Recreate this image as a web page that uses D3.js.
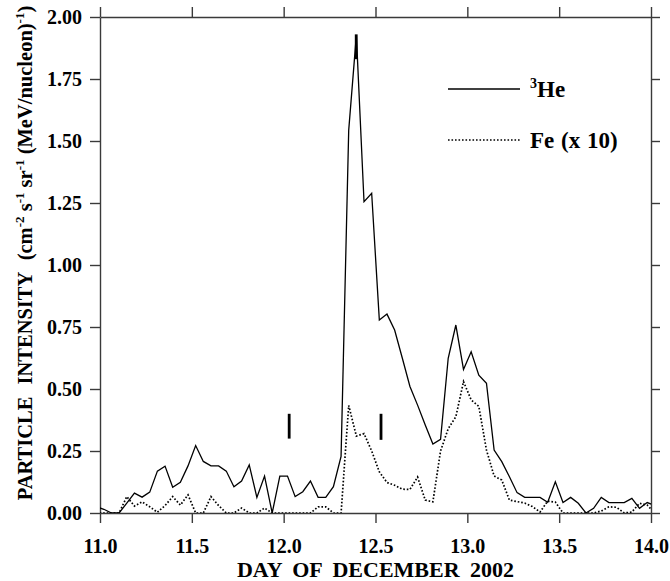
<!DOCTYPE html>
<html>
<head>
<meta charset="utf-8">
<script src="https://cdn.jsdelivr.net/npm/d3@7"></script>
<style>
  html, body { margin: 0; padding: 0; background: #fff; }
  svg { display: block; }
  text { font-family: "Liberation Serif", "Times New Roman", serif; font-weight: 700; fill: #000; }
</style>
</head>
<body>
<svg id="chart" width="670" height="581"></svg>
<script>
// Hourly averages, December 11.0 – 14.0, 2002 (bin centres at hour + 0.5)
const firstHour = -0.5;          // first bin centre, hours after Dec 11.0
const heIntensity = [
  0.025, 0.015, 0.0, 0.0, 0.04, 0.08, 0.064, 0.084, 0.169, 0.189,
  0.104, 0.124, 0.19, 0.272, 0.208, 0.19, 0.19, 0.169, 0.106, 0.129,
  0.194, 0.063, 0.149, 0.0, 0.149, 0.149, 0.066, 0.086, 0.129, 0.063,
  0.063, 0.106, 0.228, 1.544, 1.927, 1.255, 1.289, 0.778, 0.802, 0.738,
  0.625, 0.51, 0.435, 0.355, 0.278, 0.297, 0.624, 0.758, 0.579, 0.65,
  0.556, 0.523, 0.254, 0.207, 0.146, 0.082, 0.063, 0.063, 0.063, 0.043,
  0.126, 0.042, 0.063, 0.039, 0.0, 0.019, 0.063, 0.042, 0.042, 0.042,
  0.059, 0.019, 0.042, 0.03
];
// Fe intensity multiplied by 10
const feIntensityX10 = [
  0.0, 0.0, 0.0, 0.0, 0.066, 0.028, 0.045, 0.025, 0.003, 0.03,
  0.066, 0.032, 0.073, 0.0, 0.0, 0.066, 0.03, 0.0, 0.0, 0.02,
  0.0, 0.0, 0.02, 0.0, 0.0, 0.0, 0.0, 0.0, 0.0, 0.025,
  0.025, 0.0, 0.0, 0.434, 0.31, 0.32, 0.25, 0.166, 0.123, 0.112,
  0.096, 0.095, 0.145, 0.052, 0.045, 0.25, 0.34, 0.388, 0.53, 0.456,
  0.43, 0.254, 0.149, 0.133, 0.052, 0.046, 0.04, 0.026, 0.004, 0.048,
  0.044, 0.0, 0.0, 0.0, 0.0, 0.0, 0.008, 0.025, 0.023, 0.0,
  0.004, 0.039, 0.032, 0.0
];
const xTicks = [11.0, 11.5, 12.0, 12.5, 13.0, 13.5, 14.0];
const yTicks = [0, 0.25, 0.5, 0.75, 1.0, 1.25, 1.5, 1.75, 2.0];
// Short vertical event markers: day, lower and upper intensity
const markerDays = [12.03, 12.395, 12.53];
const markerLow  = [0.30, 1.83, 0.295];
const markerHigh = [0.40, 1.93, 0.40];

const svg = d3.select("#chart");
const plotLeft = 100, plotRight = 651, plotTop = 17, plotBottom = 513;

const x = d3.scaleLinear().domain([11, 14]).range([plotLeft, plotRight]);
const y = d3.scaleLinear().domain([0, 2]).range([plotBottom, plotTop]);

const dayOf = i => 11 + (firstHour + i) / 24;

svg.append("defs").append("clipPath").attr("id", "plotArea")
  .append("rect").attr("x", plotLeft).attr("y", plotTop - 5)
  .attr("width", plotRight - plotLeft).attr("height", plotBottom - plotTop + 5);

const axisColor = "#3a3a3a";
const axisW = 1.4;

// Axes (ticks outward on all four sides)
const styleAxis = g => {
  g.selectAll(".domain").attr("stroke", axisColor).attr("stroke-width", axisW);
  g.selectAll(".tick line").attr("stroke", axisColor).attr("stroke-width", axisW);
};
const styleLabels = g => g.selectAll("text").attr("font-size", 20)
  .style("font-family", "'Liberation Serif', serif").style("font-weight", "700").attr("fill", "#000");

const fmtY = d3.format(".2f");
const fmtX = d3.format(".1f");

svg.append("g").attr("transform", `translate(0,${plotBottom})`)
  .call(d3.axisBottom(x).tickValues(xTicks).tickFormat(fmtX).tickSize(10).tickSizeOuter(0).tickPadding(16))
  .call(styleAxis)
  .call(styleLabels)
  .call(g => g.selectAll("text").attr("dy", "0.71em"));

svg.append("g").attr("transform", `translate(0,${plotTop})`)
  .call(d3.axisTop(x).tickValues(xTicks).tickFormat("").tickSize(10).tickSizeOuter(0))
  .call(styleAxis);

svg.append("g").attr("transform", `translate(${plotLeft},0)`)
  .call(d3.axisLeft(y).tickValues(yTicks).tickFormat(fmtY).tickSize(10).tickSizeOuter(0).tickPadding(8))
  .call(styleAxis)
  .call(styleLabels);

svg.append("g").attr("transform", `translate(${plotRight},0)`)
  .call(d3.axisRight(y).tickValues(yTicks).tickFormat("").tickSize(9).tickSizeOuter(0))
  .call(styleAxis);

// Data lines
const plot = svg.append("g").attr("clip-path", "url(#plotArea)");

const line = d3.line().x((d, i) => x(dayOf(i))).y(d => y(d));

plot.append("path").datum(heIntensity)
  .attr("d", line).attr("fill", "none")
  .attr("stroke", "#000").attr("stroke-width", 1.3).attr("stroke-linejoin", "miter");

plot.append("path").datum(feIntensityX10)
  .attr("d", line).attr("fill", "none")
  .attr("stroke", "#000").attr("stroke-width", 1.7)
  .attr("stroke-dasharray", "1.6,1.9");

// Event markers
svg.append("g").selectAll("line").data(markerDays).join("line")
  .attr("x1", d => x(d)).attr("x2", d => x(d))
  .attr("y1", (d, i) => y(markerLow[i])).attr("y2", (d, i) => y(markerHigh[i]))
  .attr("stroke", "#000").attr("stroke-width", 2.8);

// Legend
const legend = svg.append("g");
legend.append("line").attr("x1", 448).attr("x2", 520).attr("y1", 89).attr("y2", 89)
  .attr("stroke", "#000").attr("stroke-width", 1.3);
const heLabel = legend.append("text").attr("x", 530).attr("y", 97).attr("font-size", 23);
heLabel.append("tspan").attr("font-size", 14).attr("dy", -9).text("3");
heLabel.append("tspan").attr("dy", 9).text("He");

legend.append("line").attr("x1", 448).attr("x2", 520).attr("y1", 140).attr("y2", 140)
  .attr("stroke", "#000").attr("stroke-width", 1.7).attr("stroke-dasharray", "1.6,1.9");
legend.append("text").attr("x", 530).attr("y", 148).attr("font-size", 23)
  .style("word-spacing", "1px").text("Fe (x 10)");

// Axis titles
svg.append("text")
  .attr("x", (plotLeft + plotRight) / 2).attr("y", 577)
  .attr("text-anchor", "middle").attr("font-size", 22)
  .style("word-spacing", "5px")
  .text("DAY OF DECEMBER 2002");

const yTitle = svg.append("text")
  .attr("transform", "translate(32,253) rotate(-90)")
  .attr("text-anchor", "middle").attr("font-size", 20.5);
const sup = (t) => yTitle.append("tspan").attr("font-size", 13).attr("dy", -8).text(t);
const base = (t) => yTitle.append("tspan").attr("font-size", 20.5).attr("dy", 8).text(t);
yTitle.append("tspan").style("word-spacing", "7px").text("PARTICLE INTENSITY (cm");
sup("-2");
base("\u00a0s");
sup("-1");
base("\u00a0sr");
sup("-1");
base("\u00a0(MeV/nucleon)");
sup("-1");
base(")");
</script>
</body>
</html>
